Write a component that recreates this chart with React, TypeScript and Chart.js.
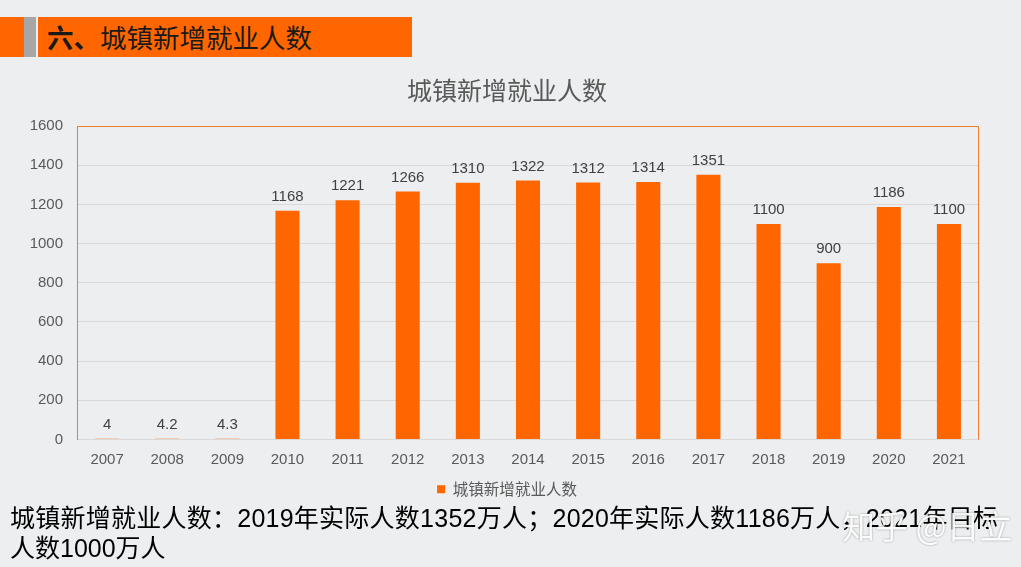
import React, { useEffect, useRef } from "react";
import { Chart, registerables } from "chart.js";

Chart.register(...registerables);

const years = ["2007", "2008", "2009", "2010", "2011", "2012", "2013", "2014", "2015", "2016", "2017", "2018", "2019", "2020", "2021"];
const newJobs = [4, 4.2, 4.3, 1168, 1221, 1266, 1310, 1322, 1312, 1314, 1351, 1100, 900, 1186, 1100];
const seriesName = "城镇新增就业人数";
const chartTitle = "城镇新增就业人数";
const headerBold = "六、";
const headerText = "城镇新增就业人数";
const noteLine1 = "城镇新增就业人数：2019年实际人数1352万人；2020年实际人数1186万人，2021年目标";
const noteLine2 = "人数1000万人";
const watermark = "知乎 @日立";

const FONT = "'Liberation Sans', Arial, 'Noto Sans CJK SC', sans-serif";
const CJK = "'Noto Sans CJK SC', 'Liberation Sans', sans-serif";

const valueLabels = {
  id: "valueLabels",
  afterDatasetsDraw(chart: any) {
    const ctx = chart.ctx;
    const meta = chart.getDatasetMeta(0);
    ctx.save();
    ctx.font = "15px " + FONT;
    ctx.fillStyle = "#404040";
    ctx.textAlign = "center";
    ctx.textBaseline = "middle";
    meta.data.forEach((el: any, i: number) => {
      ctx.fillText(String(chart.data.datasets[0].data[i]), el.x, el.y - 14);
    });
    ctx.restore();
  },
};

const plotFrame = {
  id: "plotFrame",
  afterDraw(chart: any) {
    const { ctx, chartArea } = chart;
    ctx.save();
    ctx.strokeStyle = "#ed7d31";
    ctx.lineWidth = 1;
    ctx.beginPath();
    ctx.moveTo(chartArea.left + 0.5, chartArea.bottom);
    ctx.lineTo(chartArea.left + 0.5, chartArea.top + 0.5);
    ctx.lineTo(chartArea.right - 0.5, chartArea.top + 0.5);
    ctx.lineTo(chartArea.right - 0.5, chartArea.bottom);
    ctx.stroke();
    ctx.restore();
  },
};

export default function App() {
  const ref = useRef<HTMLCanvasElement>(null);
  useEffect(() => {
    document.body.style.margin = "0";
    const chart = new Chart(ref.current!, {
      type: "bar",
      data: {
        labels: years,
        datasets: [
          {
            label: seriesName,
            data: newJobs,
            backgroundColor: "#ff6600",
            borderWidth: 0,
            barPercentage: 0.4,
            categoryPercentage: 1,
          },
        ],
      },
      options: {
        responsive: false,
        animation: false,
        layout: { padding: { top: 75, right: 7, left: 0, bottom: 60 } },
        plugins: {
          title: {
            display: true,
            text: chartTitle,
            color: "#595959",
            font: { size: 25, family: CJK, weight: "normal", lineHeight: 1.2 },
            padding: { top: 0, bottom: 21 },
          },
          legend: {
            position: "bottom",
            labels: {
              boxWidth: 8,
              boxHeight: 8,
              color: "#595959",
              font: { size: 15.5, family: CJK },
              padding: 2,
            },
          },
          tooltip: { enabled: false },
        },
        scales: {
          x: {
            grid: { display: false, drawTicks: false },
            border: { color: "#d9d9d9" },
            ticks: { color: "#595959", font: { size: 15, family: FONT }, padding: 11 },
          },
          y: {
            min: 0,
            max: 1600,
            afterFit: (s: any) => { s.width = 77; },
            ticks: {
              stepSize: 200,
              color: "#595959",
              font: { size: 15, family: FONT },
              padding: 14,
              callback: (v: any) => String(v),
            },
            grid: { color: "#d9d9d9", drawTicks: false },
            border: { color: "#ed7d31" },
          },
          spacerRight: {
            type: "linear",
            position: "right",
            display: true,
            grid: { display: false, drawTicks: false },
            border: { display: false },
            ticks: { display: false },
            afterFit: (s: any) => { s.width = 35; },
          },
        },
      },
      plugins: [valueLabels, plotFrame],
    });
    return () => chart.destroy();
  }, []);

  return (
    <div style={{ position: "relative", width: 1021, height: 567, overflow: "hidden", background: "#eceeef" }}>
      <div style={{ position: "absolute", left: 0, top: 17, width: 24, height: 40, background: "#ff6600" }} />
      <div style={{ position: "absolute", left: 24, top: 17, width: 12, height: 40, background: "#a6a6a6" }} />
      <div style={{ position: "absolute", left: 38, top: 17, width: 374, height: 40, background: "#ff6600" }} />
      <div style={{ position: "absolute", left: 47, top: 17, height: 40, lineHeight: "40px", fontFamily: CJK, fontSize: 26.5, color: "#1a1a1a", whiteSpace: "nowrap" }}>
        <span style={{ fontWeight: "bold" }}>{headerBold}</span>{headerText}
      </div>
      <canvas ref={ref} width={1021} height={567} style={{ position: "absolute", left: 0, top: 0 }} />
      <div style={{ position: "absolute", left: 10, top: 503, fontFamily: FONT, fontSize: 25, lineHeight: "30px", color: "#000", whiteSpace: "nowrap" }}>
        <div style={{ letterSpacing: 0.25 }}>{noteLine1}</div>
        <div>{noteLine2}</div>
      </div>
      <div style={{ position: "absolute", left: 842, top: 501, fontFamily: CJK, fontSize: 33, color: "rgba(255,255,255,0.95)", textShadow: "0 0 2px rgba(0,0,0,0.4)", whiteSpace: "nowrap" }}>
        {watermark}
      </div>
    </div>
  );
}
